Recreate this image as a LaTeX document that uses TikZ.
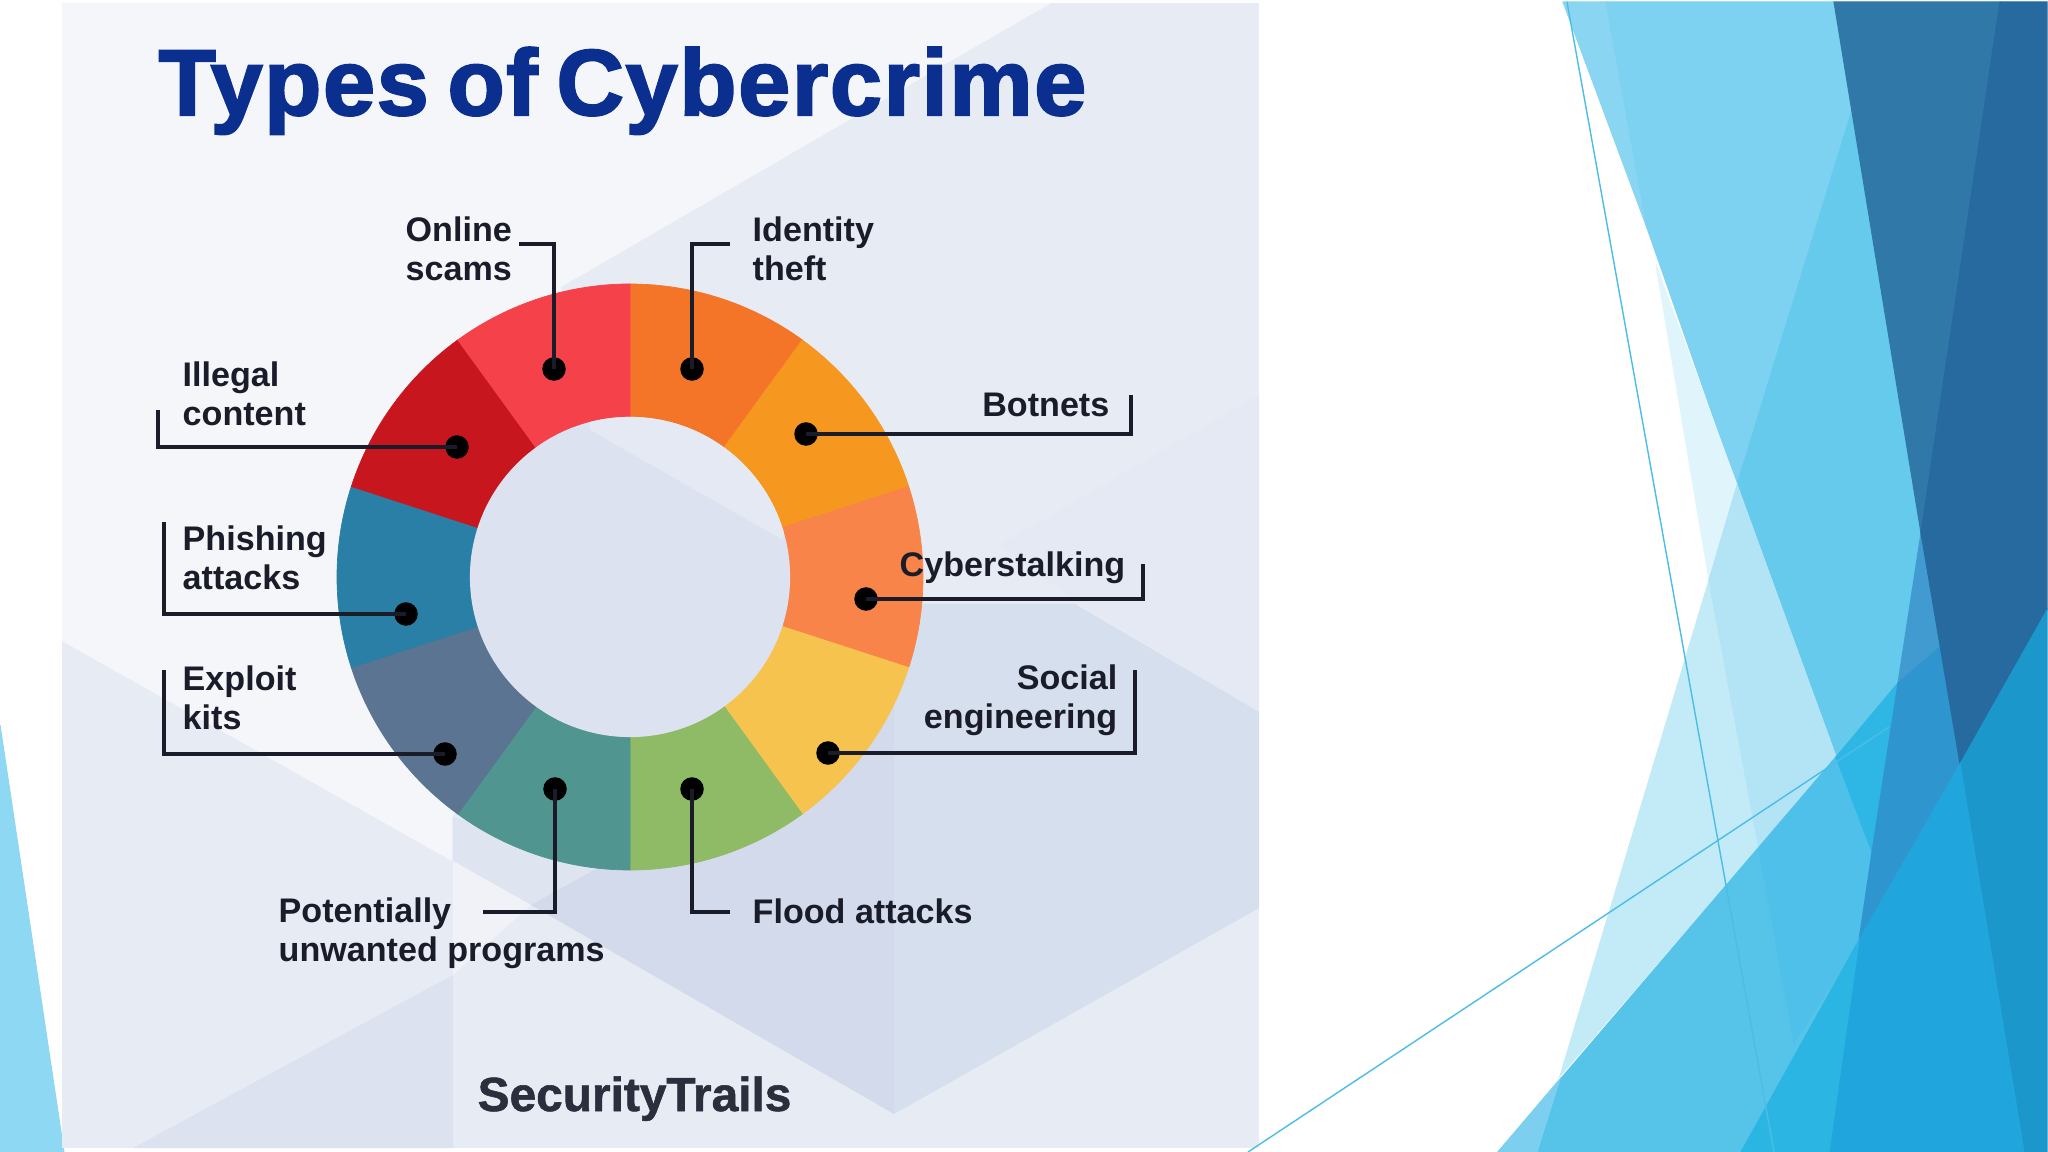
\documentclass[tikz,border=0pt]{standalone}
\usepackage{fontspec}
\setmainfont{Liberation Sans}
\newfontfamily\titlefont[FakeBold=2.2,LetterSpace=1.8,WordSpace=0.68]{Liberation Sans Bold}
\newfontfamily\brandfont[FakeBold=1.2,WordSpace=0.6]{Liberation Sans Bold}
\definecolor{txt}{HTML}{1A1D29}
\tikzset{
  lab/.style={inner sep=0pt,font=\fontsize{9.7}{11.1}\selectfont\bfseries,text=txt,align=left},
  labr/.style={lab,align=right},
  dotn/.style={circle,fill=black,inner sep=0pt,minimum size=0.235cm},
  leader/.style={draw=txt,line width=0.92pt,line join=miter},
  hairline/.style={line width=0.4pt}
}
\definecolor{hl}{HTML}{4CBDE6}
\newcommand{\poly}[2]{\definecolor{polyc}{HTML}{#1}\fill[polyc,draw=polyc,line width=0.3pt] #2 -- cycle;}
\begin{document}
\begin{tikzpicture}[x=0.01cm,y=-0.01cm]
\useasboundingbox (0,0) rectangle (2048,1152);
\fill[white] (0,0) rectangle (2048,1152);
% left strip of the slide
\poly{8FD8F3}{(0,725) -- (64,1152) -- (0,1152)}
% card
\definecolor{c1}{HTML}{E7EBF4}\definecolor{c2}{HTML}{F4F6FA}\definecolor{c3}{HTML}{D3DAEB}\definecolor{c4}{HTML}{D6DFED}
\definecolor{c5}{HTML}{F0F2F8}\definecolor{c6}{HTML}{DCE2EF}\definecolor{c7}{HTML}{DEE4F0}\definecolor{c8}{HTML}{DCE2F0}
\definecolor{c9}{HTML}{E5E9F3}\definecolor{c10}{HTML}{E5E9F3}
\fill[c1] (62,3) rectangle (1259,1148);
\fill[c2] (62,3) -- (1051,3) -- (561,287) -- (600,577) -- (452,817) -- (452,861) -- (62,641) -- cycle;
\fill[c9] (1259,395) -- (1000,545) -- (1078,603) -- (1259,712) -- cycle;
\fill[c7] (453,817) -- (650,870) -- (531,905) -- (453,861) -- cycle;
\fill[c5] (453,861) -- (531,905) -- (453,975) -- cycle;
\fill[c6] (453,975) -- (133,1148) -- (453,1148) -- cycle;
\fill[c3] (1075,604) -- (894,604) -- (894,1114) -- (531,905) -- cycle;
\fill[c4] (1075,604) -- (1259,712) -- (1259,908) -- (894,1114) -- (894,604) -- cycle;
% donut
\foreach \v/\c in {90/F47528,54/F6981F,18/F8844A,-18/F7C34F,-54/8FBA66,-90/50958F,-126/5A7491,-162/2A7FA6,-198/C8161F,-234/F5424A}{
  \definecolor{seg}{HTML}{\c}
  \pgfmathsetmacro{\w}{\v-36}
  \fill[seg,draw=seg,line width=0.2pt] ({630+293*cos(\v)},{577-293*sin(\v)}) arc[start angle=\v,end angle=\w,radius=2.93cm]
    -- ({630+160*cos(\w)},{577-160*sin(\w)}) arc[start angle=\w,end angle=\v,radius=1.6cm] -- cycle;
}
\fill[c8] (630,577) circle[radius=1.6cm];
\begin{scope}
  \clip (630,577) circle[radius=1.6cm];
  \fill[c10] (590,430) -- (783,540) -- (800,400) -- (590,400) -- cycle;
\end{scope}
% right decoration
\poly{8AD6F2}{(1563,2) -- (1606,2) -- (1647,228)}
\poly{7DD1F1}{(1606,2) -- (1834,2) -- (1852,110) -- (1737,485) -- (1647,228)}
\poly{66CAEC}{(1852,110) -- (1921,533) -- (1898,683) -- (1836,757) -- (1737,485)}
\poly{C2EAF7}{(1560,1076) -- (1709,580) -- (1737,485) -- (1836,757)}
\poly{E0F4FB}{(1656,265) -- (1737,485) -- (1709,580)}
\poly{B2E4F5}{(1709,580) -- (1737,485) -- (1836,757) -- (1759,849)}
\poly{56C3E9}{(1498,1152) -- (1836,757) -- (1872,852) -- (1859,940) -- (1741,1152)}
\poly{4EC0E9}{(1759,849) -- (1836,757) -- (1872,852) -- (1859,940) -- (1794,1043)}
\poly{7DCFEF}{(1498,1152) -- (1560,1079) -- (1537,1152)}
\poly{2EB6E4}{(1898,683) -- (1872,852) -- (1836,757)}
\poly{429BD0}{(1921,533) -- (1940,647) -- (1898,683)}
\poly{2F95CE}{(1898,683) -- (1940,647) -- (1960,764) -- (1859,940) -- (1872,852)}
\poly{2F78A8}{(1834,2) -- (2000,2) -- (1921,533)}
\poly{266AA0}{(2000,2) -- (2047,2) -- (2047,610) -- (1960,764) -- (1921,533)}
\poly{1C97CC}{(2047,610) -- (1960,764) -- (2024,1152) -- (2047,1152)}
\poly{20A6DC}{(1960,764) -- (2024,1152) -- (1829,1152) -- (1859,940)}
\poly{2BB5E3}{(1859,940) -- (1829,1152) -- (1741,1152)}
\coordinate (t1a) at (1567,2); \coordinate (t1b) at (1774,1152);
\coordinate (t2a) at (1248,1152); \coordinate (t2b) at (1889,727);
\draw[hl,hairline] (t1a) -- (t1b);
\draw[hl,hairline] (t2a) -- (t2b);
% title and brand
\node[anchor=base west,inner sep=0pt] (title) at (158,115)
  {\color[HTML]{0B2F8F}\titlefont\fontsize{26.6}{30}\selectfont Types of Cybercrime};
\node[anchor=base west,inner sep=0pt] (brand) at (477,1111)
  {\color[HTML]{2B2E3C}\brandfont\fontsize{13.6}{16}\selectfont SecurityTrails};
% labels
\node[lab,anchor=west] (lOnline) at (405,248.5) {Online\\scams};
\node[lab,anchor=west] (lIdentity) at (752,248.5) {Identity\\theft};
\node[lab,anchor=west] (lIllegal) at (182,393.5) {Illegal\\content};
\node[lab,anchor=west] (lPhishing) at (182,557.5) {Phishing\\attacks};
\node[lab,anchor=west] (lExploit) at (182,698) {Exploit\\kits};
\node[labr,anchor=east] (lBot) at (1110,405) {Botnets};
\node[labr,anchor=east] (lCyber) at (1126,568) {Cyberstalking};
\node[labr,anchor=east] (lSocial) at (1118,700) {Social\\engineering};
\node[lab,anchor=west] (lFlood) at (752,911) {Flood attacks};
\node[lab,anchor=west] (lPup) at (278,933) {Potentially\\unwanted programs};
% leaders
\node[dotn] (dOnline) at (554,369) {};
\node[dotn] (dIdentity) at (692,369) {};
\node[dotn] (dBot) at (806,434) {};
\node[dotn] (dCyber) at (866,599) {};
\node[dotn] (dSocial) at (828,753) {};
\node[dotn] (dFlood) at (692,789) {};
\node[dotn] (dPup) at (555,789) {};
\node[dotn] (dExploit) at (445,754) {};
\node[dotn] (dPhishing) at (406,614) {};
\node[dotn] (dIllegal) at (457,447) {};
\coordinate (eOnline) at (519,244);
\coordinate (eIdentity) at (730,244);
\coordinate (eBot) at (1131,395);
\coordinate (eCyber) at (1143,564);
\coordinate (eSocial) at (1135,670);
\coordinate (eFlood) at (730,912);
\coordinate (ePup) at (483,912);
\coordinate (eExploit) at (164,670);
\coordinate (ePhishing) at (164,522);
\coordinate (eIllegal) at (158,410);
\draw[leader] (dOnline.center) |- (eOnline);
\draw[leader] (dIdentity.center) |- (eIdentity);
\draw[leader] (dFlood.center) |- (eFlood);
\draw[leader] (dPup.center) |- (ePup);
\draw[leader] (dBot.center) -| (eBot);
\draw[leader] (dCyber.center) -| (eCyber);
\draw[leader] (dSocial.center) -| (eSocial);
\draw[leader] (dExploit.center) -| (eExploit);
\draw[leader] (dPhishing.center) -| (ePhishing);
\draw[leader] (dIllegal.center) -| (eIllegal);
\end{tikzpicture}
\end{document}
